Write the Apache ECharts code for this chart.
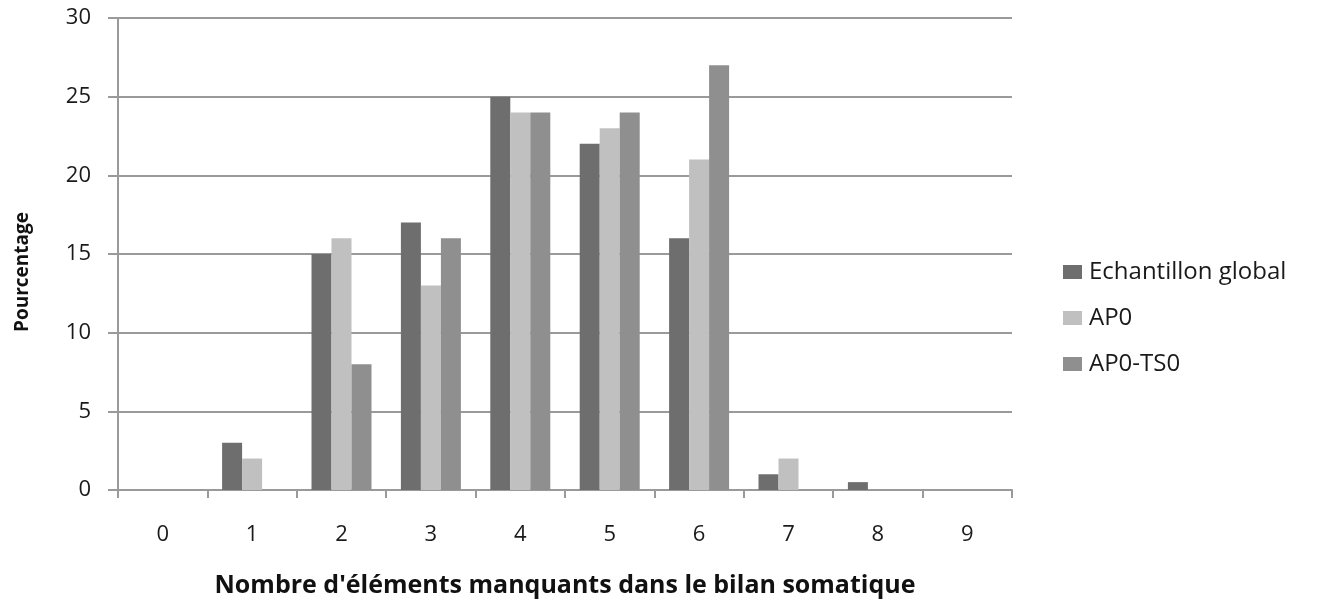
<!DOCTYPE html>
<html><head><meta charset="utf-8">
<script src="https://cdn.jsdelivr.net/npm/echarts@6/dist/echarts.min.js"></script>
<style>html,body{margin:0;padding:0;background:#fff}#c{width:1319px;height:603px}</style>
</head><body><div id="c"></div>
<script>
const categories = ['0','1','2','3','4','5','6','7','8','9'];
const seriesNames = ['Echantillon global','AP0','AP0-TS0'];
const echantillon = [0,3,15,17,25,22,16,1,0.5,0];
const ap0 = [0,2,16,13,24,23,21,2,0,0];
const ap0ts0 = [0,0,8,16,24,24,27,0,0,0];
const yMin = 0, yMax = 30, yStep = 5;
const colors = ['#6e6e6e','#c0c0c0','#8f8f8f'];
const font = '"Open Sans", sans-serif';
const chart = echarts.init(document.getElementById('c'), null, {renderer:'canvas'});
const axisColor = '#9a9a9a';
chart.setOption({
  animation:false,
  backgroundColor:'#fff',
  color:colors,
  grid:{left:118,right:307,top:18,bottom:111,containLabel:false},
  legend:{
    orient:'vertical', left:1058, top:255, itemWidth:19, itemHeight:14, itemGap:22,
    icon:'rect',
    textStyle:{fontFamily:font,fontSize:24,color:'#1a1a1a',padding:[0,0,0,2]},
    data:seriesNames
  },
  xAxis:{
    type:'category', data:categories,
    axisLine:{lineStyle:{color:axisColor,width:2}},
    axisTick:{show:true,length:8,lineStyle:{color:axisColor,width:2},alignWithLabel:false},
    axisLabel:{fontFamily:font,fontSize:22,color:'#1a1a1a',margin:34},
    name:"Nombre d'éléments manquants dans le bilan somatique",
    nameLocation:'middle', nameGap:83,
    nameTextStyle:{fontFamily:font,fontSize:25,fontWeight:'bold',color:'#111'}
  },
  yAxis:{
    type:'value', min:yMin, max:yMax, interval:yStep,
    axisLine:{show:true,lineStyle:{color:axisColor,width:2}},
    axisTick:{show:true,length:10,lineStyle:{color:axisColor,width:2}},
    splitLine:{lineStyle:{color:axisColor,width:2}},
    axisLabel:{fontFamily:font,fontSize:22,color:'#1a1a1a',margin:27},
    name:'Pourcentage', nameLocation:'middle', nameGap:86, nameRotate:90,
    nameTextStyle:{fontFamily:font,fontSize:19,fontWeight:'bold',color:'#111',padding:[0,36,0,0]}
  },
  series:[
    {name:seriesNames[0],type:'bar',data:echantillon,barWidth:20,barGap:'0%'},
    {name:seriesNames[1],type:'bar',data:ap0,barWidth:20,barGap:'0%'},
    {name:seriesNames[2],type:'bar',data:ap0ts0,barWidth:20,barGap:'0%'}
  ]
});
</script></body></html>
